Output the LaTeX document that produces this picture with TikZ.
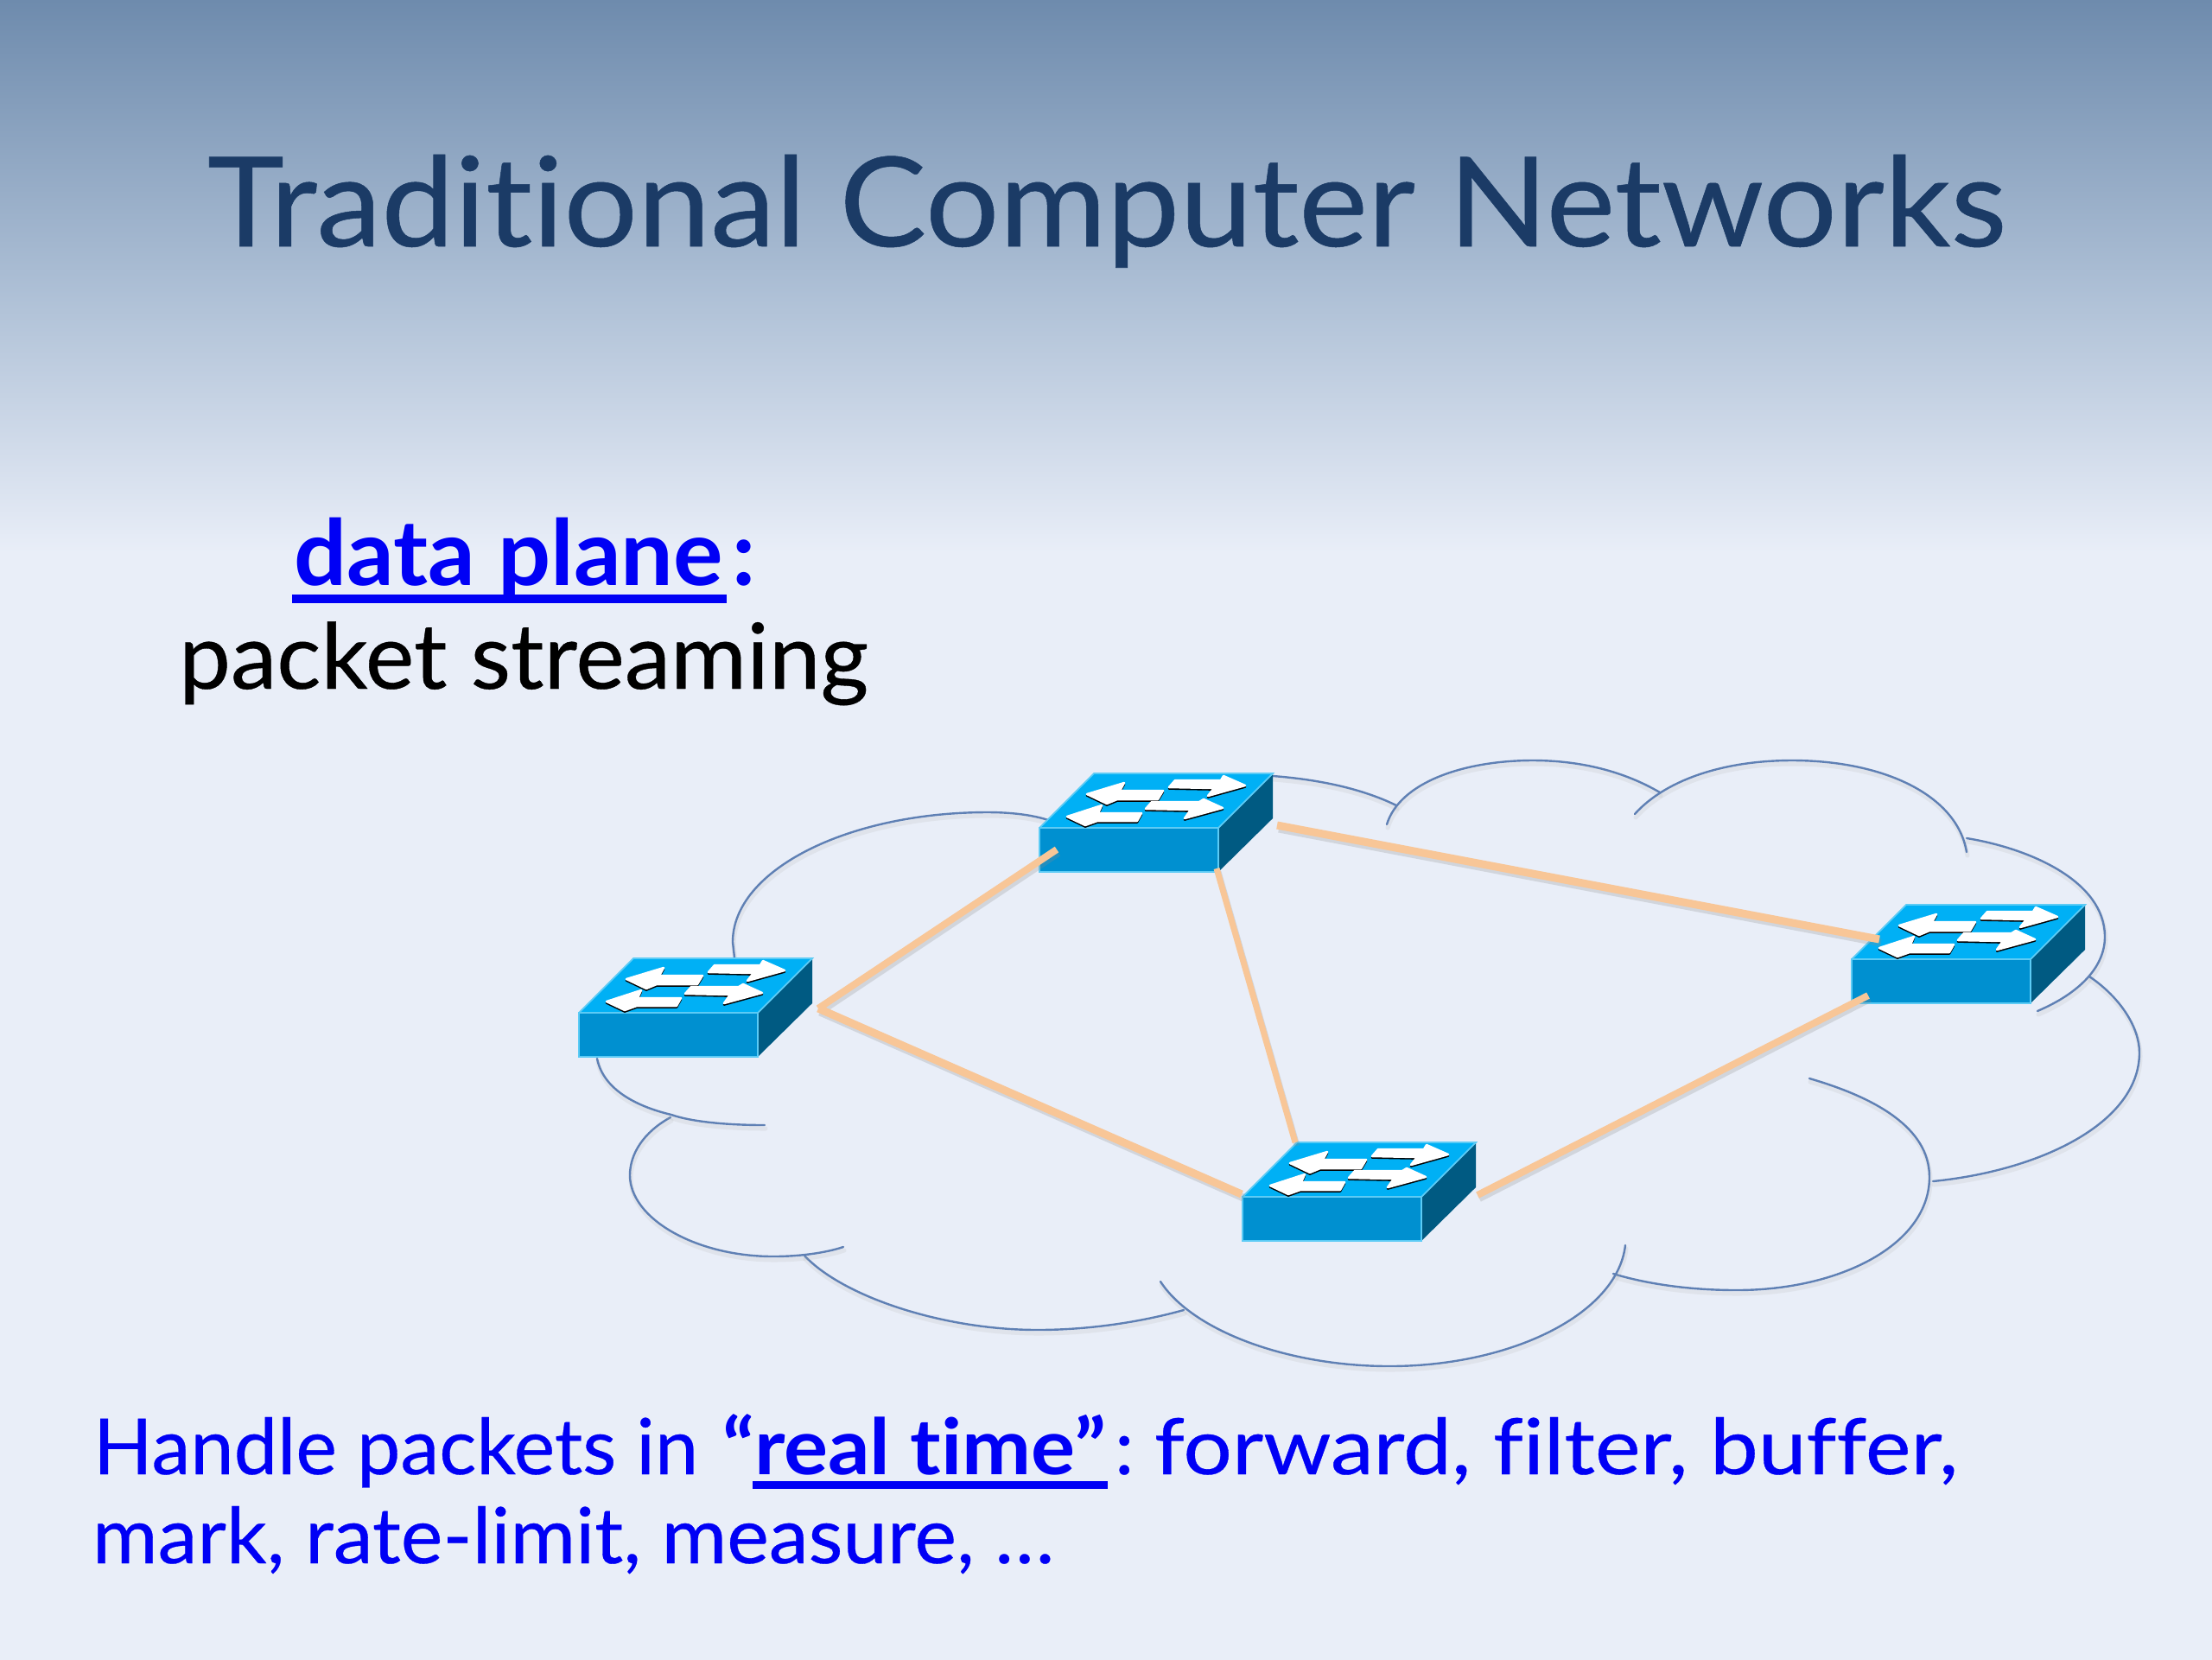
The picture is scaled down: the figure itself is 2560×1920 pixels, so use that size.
\documentclass[tikz,border=0pt]{standalone}
\usepackage{fontspec}
\usepackage{graphicx}
\setmainfont{Lato}[Ligatures=NoCommon]
\definecolor{bgA}{HTML}{6E8BAD}
\definecolor{bgB}{HTML}{AEC0D6}
\definecolor{bgC}{HTML}{E9EEF8}
\definecolor{titleblue}{HTML}{1B3B66}
\definecolor{pureblue}{HTML}{0000F5}
\definecolor{swtop}{HTML}{00B0F5}
\definecolor{swfront}{HTML}{0090D0}
\definecolor{swside}{HTML}{005A82}
\definecolor{swedge}{HTML}{5CCBF5}
\definecolor{cloudline}{HTML}{5F80B4}
\definecolor{linkcol}{HTML}{F8C697}
\newlength{\pxu}\setlength{\pxu}{0.01cm}
\newcommand{\fit}[2]{\resizebox{#1\pxu}{\height}{#2}}
\newcommand{\heavy}{\addfontfeature{FakeBold=0.35}}
\newcommand{\headsize}{\fontsize{30}{30}\selectfont}
\newcommand{\bodysize}{\fontsize{25.5}{25.5}\selectfont\heavy}
\tikzset{
  x=0.01cm,y=-0.01cm,
  txt/.style={anchor=base west,inner sep=0pt,outer sep=0pt},
  cloudarc/.style={draw=cloudline,line width=0.024cm,line cap=round},
  cloudshadow/.style={draw=black!30,opacity=.18,line width=0.05cm,line cap=round},
  linkline/.style={draw=linkcol,line cap=butt},
  linkshadow/.style={draw=black!45,opacity=.25,line cap=butt},
  arrowfill/.style={fill=white,draw=white,line width=0.025cm,line join=round},
  arrowedge/.style={fill=black,draw=black,line width=0.025cm,line join=round},
  ruleline/.style={fill=pureblue,draw=none},
  switch/.pic={
    \fill[swtop] (0,0) -- (63,-63) -- (270,-63) -- (207,0) -- cycle;
    \fill[swfront] (0,0) rectangle (207,51);
    \fill[swside] (207,0) -- (270,-63) -- (270,-11) -- (207,51) -- cycle;
    \draw[swedge,line width=0.018cm] (0,51) -- (0,0) -- (207,0) -- (207,51) -- cycle (207,0) -- (270,-63) -- (63,-63) -- (0,0);
    \foreach \dy/\kind in {-1.6/arrowedge,0/arrowfill}{
      \filldraw[\kind,yshift=\dy*0.01cm] (55,-39) -- (98,-52) -- (93,-43) -- (143,-43) -- (137,-33) -- (90,-33) -- (78,-28) -- cycle;
      \filldraw[\kind,yshift=\dy*0.01cm] (150,-47) -- (157,-55) -- (210,-55) -- (213,-60) -- (238,-49) -- (195,-37) -- (202,-46) -- cycle;
      \filldraw[\kind,yshift=\dy*0.01cm] (32,-13) -- (72,-26) -- (68,-17) -- (118,-17) -- (113,-8) -- (67,-8) -- (53,-3) -- cycle;
      \filldraw[\kind,yshift=\dy*0.01cm] (123,-22) -- (130,-30) -- (185,-30) -- (190,-33) -- (212,-23) -- (168,-11) -- (175,-21) -- cycle;
    }
  }
}
\newcommand{\cloudpiece}[1]{%
  \draw[cloudshadow,yshift=-0.04cm,xshift=0.01cm] #1;
  \draw[cloudarc] #1;
}
\newcommand{\netlink}[3]{%
  \draw[linkshadow,line width=#3*0.01cm] ([shift={(2,4)}]#1) -- ([shift={(2,4)}]#2);
  \draw[linkline,line width=#3*0.01cm] (#1) -- (#2);
}
\begin{document}
\begin{tikzpicture}
\useasboundingbox (0,0) rectangle (2560,1920);
% background
\fill[bgC] (-5,-5) rectangle (2565,1925);
\shade[top color=bgA,bottom color=bgB] (-5,0) rectangle (2565,341);
\shade[top color=bgB,bottom color=bgC] (-5,340) rectangle (2565,640);
% cloud
\cloudpiece{(850,1108) -- (848,1090) .. controls (848,1007) and (981,940) .. (1143,940) .. controls (1170,940) and (1195,943) .. (1213,949)}
\cloudpiece{(1473,898) .. controls (1525,902) and (1575,912) .. (1616,932)}
\cloudpiece{(1605,954) .. controls (1620,905) and (1695,880) .. (1774,880) .. controls (1830,880) and (1880,893) .. (1921,917)}
\cloudpiece{(1892,942) .. controls (1925,905) and (1990,880) .. (2074,880) .. controls (2180,880) and (2265,920) .. (2276,986)}
\cloudpiece{(2276,970) .. controls (2350,982) and (2436,1020) .. (2436,1084) .. controls (2436,1120) and (2405,1150) .. (2358,1170)}
\cloudpiece{(2418,1130) .. controls (2455,1155) and (2476,1190) .. (2476,1218) .. controls (2476,1300) and (2360,1355) .. (2237,1367)}
\cloudpiece{(2094,1248) .. controls (2170,1270) and (2233,1305) .. (2233,1362) .. controls (2233,1440) and (2130,1493) .. (2010,1493) .. controls (1960,1493) and (1910,1487) .. (1867,1474)}
\cloudpiece{(1881,1441) .. controls (1872,1520) and (1750,1581) .. (1608,1581) .. controls (1490,1581) and (1380,1540) .. (1343,1483)}
\cloudpiece{(1370,1516) .. controls (1320,1530) and (1260,1539) .. (1201,1539) .. controls (1090,1539) and (975,1500) .. (931,1453)}
\cloudpiece{(976,1443) .. controls (955,1450) and (925,1454) .. (895,1454) .. controls (805,1454) and (729,1410) .. (729,1360) .. controls (729,1335) and (745,1310) .. (776,1293)}
\cloudpiece{(691,1225) .. controls (698,1260) and (735,1280) .. (777,1290) .. controls (800,1298) and (840,1302) .. (885,1302)}
% switches
\pic (sw1) at (670,1172) {switch};
\pic (sw2) at (1203,958) {switch};
\pic (sw3) at (2143,1110) {switch};
\pic (sw4) at (1438,1385) {switch};
% link ends
\coordinate (aL) at (947,1167);
\coordinate (aT) at (1223,983);
\coordinate (aB) at (1437,1382);
\coordinate (bB) at (1408,1005);
\coordinate (bR) at (1478,955);
\coordinate (dT) at (1499,1322);
\coordinate (dR) at (1710,1383);
\coordinate (cT) at (2175,1087);
\coordinate (cB) at (2162,1152);
\netlink{aL}{aT}{8}
\netlink{aL}{aB}{9}
\netlink{bB}{dT}{7}
\netlink{bR}{cT}{9}
\netlink{dR}{cB}{8}
% text
\node[txt,text=titleblue] (title) at (240,285) {\fit{2082}{\fontsize{41}{41}\selectfont\heavy Traditional Computer Networks}};
\node[txt,text=pureblue] (dp) at (340,677) {\fit{497}{\headsize\bfseries data plane}};
\node[txt,text=pureblue] (dpc) at (847,677) {\headsize\bfseries :};
\fill[ruleline] (338,688) rectangle (841,698);
\node[txt,text=black] (ps) at (207,797) {\fit{798}{\headsize\heavy packet streaming}};
\node[txt,text=pureblue] (h1) at (108,1706) {\fit{700}{\bodysize Handle packets in}};
\node[txt,text=pureblue] (h2) at (836,1706) {\fit{444}{\fontsize{25.5}{25.5}\selectfont\bfseries “real time”}};
\fill[ruleline] (871,1714) rectangle (1282,1723);
\node[txt,text=pureblue] (h3) at (1290,1706) {\bodysize :};
\node[txt,text=pureblue] (h4) at (1336,1706) {\fit{930}{\bodysize forward, filter, buffer,}};
\node[txt,text=pureblue] (h5) at (107,1809) {\fit{1113}{\bodysize mark, rate-limit, measure, …}};
\end{tikzpicture}
\end{document}
